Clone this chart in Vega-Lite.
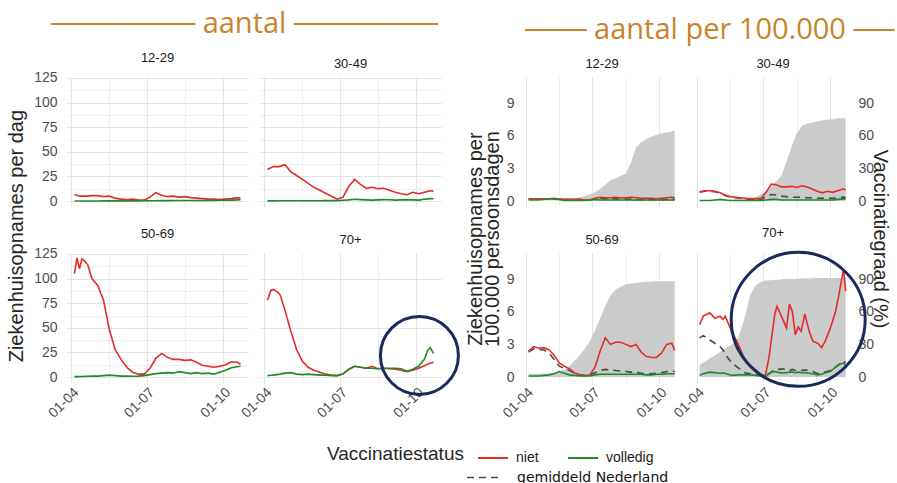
{
"$schema": "https://vega.github.io/schema/vega-lite/v6.json",
"padding": {"left": 6, "top": 9, "right": 0, "bottom": 0},
"config": {
 "font": "Liberation Sans",
 "view": {"stroke": null},
 "axis": {"domain": false, "ticks": false, "labelColor": "#4d4d4d", "labelFontSize": 14, "gridColor": "#e4e4e4", "minExtent": 0},
 "title": {"fontSize": 13, "fontWeight": "normal", "color": "#1a1a1a", "offset": 6, "frame": "group", "anchor": "middle", "font": "Liberation Sans"},
 "legend": {"labelFontSize": 14, "labelColor": "#1a1a1a"}
},
"datasets": {
"L": [
{"g":"12-29","d":"2021-04-05","niet":6.5,"volledig":0.1},{"g":"12-29","d":"2021-04-12","niet":5,"volledig":0.1},{"g":"12-29","d":"2021-04-19","niet":5,"volledig":0.1},{"g":"12-29","d":"2021-04-26","niet":5.5,"volledig":0.1},{"g":"12-29","d":"2021-05-03","niet":5.5,"volledig":0.1},{"g":"12-29","d":"2021-05-10","niet":4.5,"volledig":0.2},{"g":"12-29","d":"2021-05-17","niet":5,"volledig":0.2},{"g":"12-29","d":"2021-05-24","niet":3,"volledig":0.2},{"g":"12-29","d":"2021-05-31","niet":2,"volledig":0.2},{"g":"12-29","d":"2021-06-07","niet":1.5,"volledig":0.2},{"g":"12-29","d":"2021-06-14","niet":2,"volledig":0.2},{"g":"12-29","d":"2021-06-21","niet":1,"volledig":0.2},{"g":"12-29","d":"2021-06-28","niet":1,"volledig":0.3},{"g":"12-29","d":"2021-07-05","niet":4,"volledig":0.3},{"g":"12-29","d":"2021-07-12","niet":8.5,"volledig":0.4},{"g":"12-29","d":"2021-07-19","niet":6,"volledig":0.5},{"g":"12-29","d":"2021-07-26","niet":4.5,"volledig":0.5},{"g":"12-29","d":"2021-08-02","niet":5,"volledig":0.6},{"g":"12-29","d":"2021-08-09","niet":4,"volledig":0.6},{"g":"12-29","d":"2021-08-16","niet":4.5,"volledig":0.6},{"g":"12-29","d":"2021-08-23","niet":3.5,"volledig":0.6},{"g":"12-29","d":"2021-08-30","niet":3,"volledig":0.6},{"g":"12-29","d":"2021-09-06","niet":2.5,"volledig":0.6},{"g":"12-29","d":"2021-09-13","niet":2,"volledig":0.7},{"g":"12-29","d":"2021-09-20","niet":2,"volledig":0.7},{"g":"12-29","d":"2021-09-27","niet":1.5,"volledig":0.8},{"g":"12-29","d":"2021-10-04","niet":2,"volledig":0.8},{"g":"12-29","d":"2021-10-11","niet":2.5,"volledig":1},{"g":"12-29","d":"2021-10-18","niet":3.5,"volledig":1.2},{"g":"12-29","d":"2021-10-22","niet":3,"volledig":1.3},
{"g":"30-49","d":"2021-04-05","niet":32,"volledig":0.2},{"g":"30-49","d":"2021-04-12","niet":35,"volledig":0.2},{"g":"30-49","d":"2021-04-19","niet":35,"volledig":0.3},{"g":"30-49","d":"2021-04-26","niet":37,"volledig":0.3},{"g":"30-49","d":"2021-05-03","niet":30,"volledig":0.3},{"g":"30-49","d":"2021-05-10","niet":26,"volledig":0.3},{"g":"30-49","d":"2021-05-17","niet":22,"volledig":0.3},{"g":"30-49","d":"2021-05-24","niet":18,"volledig":0.4},{"g":"30-49","d":"2021-05-31","niet":14,"volledig":0.4},{"g":"30-49","d":"2021-06-07","niet":11,"volledig":0.4},{"g":"30-49","d":"2021-06-14","niet":8,"volledig":0.5},{"g":"30-49","d":"2021-06-21","niet":5,"volledig":0.5},{"g":"30-49","d":"2021-06-28","niet":2,"volledig":0.5},{"g":"30-49","d":"2021-07-05","niet":4,"volledig":0.8},{"g":"30-49","d":"2021-07-12","niet":15,"volledig":1.2},{"g":"30-49","d":"2021-07-19","niet":22,"volledig":1.8},{"g":"30-49","d":"2021-07-26","niet":17,"volledig":1.5},{"g":"30-49","d":"2021-08-02","niet":13,"volledig":1.2},{"g":"30-49","d":"2021-08-09","niet":14,"volledig":1},{"g":"30-49","d":"2021-08-16","niet":12.5,"volledig":1.2},{"g":"30-49","d":"2021-08-23","niet":13,"volledig":1.5},{"g":"30-49","d":"2021-08-30","niet":11,"volledig":1.3},{"g":"30-49","d":"2021-09-06","niet":9,"volledig":1},{"g":"30-49","d":"2021-09-13","niet":7.5,"volledig":1.2},{"g":"30-49","d":"2021-09-20","niet":6.5,"volledig":1.5},{"g":"30-49","d":"2021-09-27","niet":9,"volledig":1.2},{"g":"30-49","d":"2021-10-04","niet":7.5,"volledig":1},{"g":"30-49","d":"2021-10-11","niet":9,"volledig":1.8},{"g":"30-49","d":"2021-10-18","niet":10.5,"volledig":2.5},{"g":"30-49","d":"2021-10-22","niet":10,"volledig":2.3},
{"g":"50-69","d":"2021-04-05","niet":105,"volledig":0.5},{"g":"50-69","d":"2021-04-08","niet":121,"volledig":0.5},{"g":"50-69","d":"2021-04-11","niet":110,"volledig":0.5},{"g":"50-69","d":"2021-04-14","niet":120,"volledig":0.6},{"g":"50-69","d":"2021-04-17","niet":118,"volledig":0.7},{"g":"50-69","d":"2021-04-21","niet":114,"volledig":0.8},{"g":"50-69","d":"2021-04-26","niet":100,"volledig":1},{"g":"50-69","d":"2021-05-03","niet":93,"volledig":1},{"g":"50-69","d":"2021-05-10","niet":78,"volledig":1.5},{"g":"50-69","d":"2021-05-17","niet":48,"volledig":2},{"g":"50-69","d":"2021-05-24","niet":28,"volledig":1.5},{"g":"50-69","d":"2021-05-31","niet":18,"volledig":1},{"g":"50-69","d":"2021-06-07","niet":10,"volledig":1},{"g":"50-69","d":"2021-06-14","niet":5,"volledig":0.8},{"g":"50-69","d":"2021-06-21","niet":3,"volledig":1},{"g":"50-69","d":"2021-06-28","niet":3,"volledig":1.5},{"g":"50-69","d":"2021-07-05","niet":9,"volledig":2.5},{"g":"50-69","d":"2021-07-12","niet":19,"volledig":3.5},{"g":"50-69","d":"2021-07-19","niet":24,"volledig":4},{"g":"50-69","d":"2021-07-26","niet":20,"volledig":4.5},{"g":"50-69","d":"2021-08-02","niet":18,"volledig":4},{"g":"50-69","d":"2021-08-09","niet":18,"volledig":5.5},{"g":"50-69","d":"2021-08-16","niet":17,"volledig":4.5},{"g":"50-69","d":"2021-08-23","niet":17.5,"volledig":3.5},{"g":"50-69","d":"2021-08-30","niet":15,"volledig":4.5},{"g":"50-69","d":"2021-09-06","niet":12,"volledig":3.5},{"g":"50-69","d":"2021-09-13","niet":11,"volledig":4},{"g":"50-69","d":"2021-09-20","niet":10,"volledig":3},{"g":"50-69","d":"2021-09-27","niet":11,"volledig":5},{"g":"50-69","d":"2021-10-04","niet":12.5,"volledig":7},{"g":"50-69","d":"2021-10-11","niet":15.5,"volledig":9.5},{"g":"50-69","d":"2021-10-18","niet":15,"volledig":10.5},{"g":"50-69","d":"2021-10-22","niet":13,"volledig":11},
{"g":"70+","d":"2021-04-05","niet":78,"volledig":1.5},{"g":"70+","d":"2021-04-09","niet":88,"volledig":1.8},{"g":"70+","d":"2021-04-12","niet":89,"volledig":2},{"g":"70+","d":"2021-04-16","niet":87,"volledig":2.5},{"g":"70+","d":"2021-04-20","niet":84,"volledig":3},{"g":"70+","d":"2021-04-26","niet":68,"volledig":4},{"g":"70+","d":"2021-05-03","niet":47,"volledig":4.5},{"g":"70+","d":"2021-05-10","niet":28,"volledig":3},{"g":"70+","d":"2021-05-17","niet":16,"volledig":2.5},{"g":"70+","d":"2021-05-24","niet":10,"volledig":3},{"g":"70+","d":"2021-05-31","niet":7,"volledig":2.5},{"g":"70+","d":"2021-06-07","niet":5,"volledig":2},{"g":"70+","d":"2021-06-14","niet":3,"volledig":2},{"g":"70+","d":"2021-06-21","niet":2,"volledig":1.5},{"g":"70+","d":"2021-06-28","niet":1.5,"volledig":1.5},{"g":"70+","d":"2021-07-05","niet":3,"volledig":3.5},{"g":"70+","d":"2021-07-12","niet":8,"volledig":8},{"g":"70+","d":"2021-07-19","niet":11,"volledig":11},{"g":"70+","d":"2021-07-26","niet":10,"volledig":10},{"g":"70+","d":"2021-08-02","niet":9,"volledig":9},{"g":"70+","d":"2021-08-09","niet":11,"volledig":9},{"g":"70+","d":"2021-08-16","niet":8.5,"volledig":8.5},{"g":"70+","d":"2021-08-23","niet":9,"volledig":9},{"g":"70+","d":"2021-08-30","niet":8.5,"volledig":9},{"g":"70+","d":"2021-09-06","niet":8,"volledig":9},{"g":"70+","d":"2021-09-13","niet":7,"volledig":8.5},{"g":"70+","d":"2021-09-20","niet":5.5,"volledig":6},{"g":"70+","d":"2021-09-27","niet":7,"volledig":8},{"g":"70+","d":"2021-10-04","niet":9,"volledig":11},{"g":"70+","d":"2021-10-11","niet":11.5,"volledig":18},{"g":"70+","d":"2021-10-15","niet":13,"volledig":27},{"g":"70+","d":"2021-10-18","niet":14,"volledig":30},{"g":"70+","d":"2021-10-22","niet":15,"volledig":24}
],
"R": [
{"g":"12-29","d":"2021-04-05","niet":0.2,"volledig":0.1,"gem":0.18,"vacc":0},{"g":"12-29","d":"2021-04-12","niet":0.2,"volledig":0.1,"gem":0.18,"vacc":0},{"g":"12-29","d":"2021-04-19","niet":0.2,"volledig":0.1,"gem":0.18,"vacc":0},{"g":"12-29","d":"2021-04-26","niet":0.2,"volledig":0.15,"gem":0.18,"vacc":0},{"g":"12-29","d":"2021-05-03","niet":0.2,"volledig":0.2,"gem":0.18,"vacc":0.5},{"g":"12-29","d":"2021-05-10","niet":0.2,"volledig":0.25,"gem":0.18,"vacc":0.5},{"g":"12-29","d":"2021-05-17","niet":0.2,"volledig":0.15,"gem":0.18,"vacc":1},{"g":"12-29","d":"2021-05-24","niet":0.15,"volledig":0.05,"gem":0.13,"vacc":1.5},{"g":"12-29","d":"2021-05-31","niet":0.15,"volledig":0.05,"gem":0.13,"vacc":2},{"g":"12-29","d":"2021-06-07","niet":0.15,"volledig":0.05,"gem":0.13,"vacc":2.5},{"g":"12-29","d":"2021-06-14","niet":0.15,"volledig":0.05,"gem":0.13,"vacc":3.5},{"g":"12-29","d":"2021-06-21","niet":0.1,"volledig":0.05,"gem":0.1,"vacc":4.5},{"g":"12-29","d":"2021-06-28","niet":0.1,"volledig":0.1,"gem":0.1,"vacc":6},{"g":"12-29","d":"2021-07-05","niet":0.25,"volledig":0.15,"gem":0.2,"vacc":8},{"g":"12-29","d":"2021-07-12","niet":0.35,"volledig":0.1,"gem":0.25,"vacc":11},{"g":"12-29","d":"2021-07-19","niet":0.3,"volledig":0.1,"gem":0.2,"vacc":15},{"g":"12-29","d":"2021-07-26","niet":0.3,"volledig":0.1,"gem":0.2,"vacc":19},{"g":"12-29","d":"2021-08-02","niet":0.35,"volledig":0.1,"gem":0.2,"vacc":21},{"g":"12-29","d":"2021-08-09","niet":0.3,"volledig":0.1,"gem":0.18,"vacc":23},{"g":"12-29","d":"2021-08-16","niet":0.3,"volledig":0.1,"gem":0.17,"vacc":25},{"g":"12-29","d":"2021-08-23","niet":0.35,"volledig":0.1,"gem":0.17,"vacc":35},{"g":"12-29","d":"2021-08-30","niet":0.3,"volledig":0.1,"gem":0.15,"vacc":49},{"g":"12-29","d":"2021-09-06","niet":0.25,"volledig":0.1,"gem":0.13,"vacc":54},{"g":"12-29","d":"2021-09-13","niet":0.25,"volledig":0.1,"gem":0.13,"vacc":57},{"g":"12-29","d":"2021-09-20","niet":0.25,"volledig":0.1,"gem":0.13,"vacc":59},{"g":"12-29","d":"2021-09-27","niet":0.2,"volledig":0.1,"gem":0.12,"vacc":61},{"g":"12-29","d":"2021-10-04","niet":0.25,"volledig":0.1,"gem":0.13,"vacc":62},{"g":"12-29","d":"2021-10-11","niet":0.3,"volledig":0.1,"gem":0.15,"vacc":63},{"g":"12-29","d":"2021-10-18","niet":0.35,"volledig":0.1,"gem":0.17,"vacc":64},{"g":"12-29","d":"2021-10-22","niet":0.3,"volledig":0.1,"gem":0.15,"vacc":65},
{"g":"30-49","d":"2021-04-05","niet":0.85,"volledig":0.05,"gem":0.8,"vacc":0},{"g":"30-49","d":"2021-04-12","niet":0.95,"volledig":0.05,"gem":0.9,"vacc":0},{"g":"30-49","d":"2021-04-19","niet":0.95,"volledig":0.05,"gem":0.9,"vacc":0},{"g":"30-49","d":"2021-04-26","niet":0.9,"volledig":0.1,"gem":0.85,"vacc":0.5},{"g":"30-49","d":"2021-05-03","niet":0.75,"volledig":0.15,"gem":0.7,"vacc":0.5},{"g":"30-49","d":"2021-05-10","niet":0.55,"volledig":0.1,"gem":0.5,"vacc":1},{"g":"30-49","d":"2021-05-17","niet":0.4,"volledig":0.05,"gem":0.35,"vacc":1},{"g":"30-49","d":"2021-05-24","niet":0.35,"volledig":0.05,"gem":0.3,"vacc":1.5},{"g":"30-49","d":"2021-05-31","niet":0.3,"volledig":0.05,"gem":0.25,"vacc":1.5},{"g":"30-49","d":"2021-06-07","niet":0.25,"volledig":0.05,"gem":0.2,"vacc":2},{"g":"30-49","d":"2021-06-14","niet":0.2,"volledig":0.05,"gem":0.15,"vacc":3},{"g":"30-49","d":"2021-06-21","niet":0.2,"volledig":0.05,"gem":0.15,"vacc":4},{"g":"30-49","d":"2021-06-28","niet":0.25,"volledig":0.05,"gem":0.15,"vacc":6},{"g":"30-49","d":"2021-07-05","niet":0.8,"volledig":0.1,"gem":0.4,"vacc":9},{"g":"30-49","d":"2021-07-12","niet":1.55,"volledig":0.15,"gem":0.6,"vacc":13},{"g":"30-49","d":"2021-07-19","niet":1.5,"volledig":0.15,"gem":0.55,"vacc":18},{"g":"30-49","d":"2021-07-26","niet":1.3,"volledig":0.1,"gem":0.45,"vacc":23},{"g":"30-49","d":"2021-08-02","niet":1.3,"volledig":0.1,"gem":0.4,"vacc":36},{"g":"30-49","d":"2021-08-09","niet":1.35,"volledig":0.1,"gem":0.35,"vacc":50},{"g":"30-49","d":"2021-08-16","niet":1.25,"volledig":0.1,"gem":0.35,"vacc":62},{"g":"30-49","d":"2021-08-23","niet":1.4,"volledig":0.1,"gem":0.35,"vacc":69},{"g":"30-49","d":"2021-08-30","niet":1.3,"volledig":0.1,"gem":0.3,"vacc":71},{"g":"30-49","d":"2021-09-06","niet":1.1,"volledig":0.1,"gem":0.3,"vacc":72},{"g":"30-49","d":"2021-09-13","niet":0.9,"volledig":0.1,"gem":0.25,"vacc":73},{"g":"30-49","d":"2021-09-20","niet":0.75,"volledig":0.1,"gem":0.25,"vacc":74},{"g":"30-49","d":"2021-09-27","niet":0.9,"volledig":0.1,"gem":0.25,"vacc":75},{"g":"30-49","d":"2021-10-04","niet":0.8,"volledig":0.1,"gem":0.25,"vacc":75},{"g":"30-49","d":"2021-10-11","niet":0.95,"volledig":0.15,"gem":0.3,"vacc":76},{"g":"30-49","d":"2021-10-18","niet":1.1,"volledig":0.2,"gem":0.35,"vacc":76},{"g":"30-49","d":"2021-10-22","niet":1.05,"volledig":0.2,"gem":0.35,"vacc":76},
{"g":"50-69","d":"2021-04-05","niet":2.35,"volledig":0.1,"gem":2.3,"vacc":3},{"g":"50-69","d":"2021-04-12","niet":2.8,"volledig":0.1,"gem":2.6,"vacc":3},{"g":"50-69","d":"2021-04-19","niet":2.65,"volledig":0.1,"gem":2.5,"vacc":3},{"g":"50-69","d":"2021-04-26","niet":2.7,"volledig":0.15,"gem":2.5,"vacc":3},{"g":"50-69","d":"2021-05-03","niet":2.5,"volledig":0.2,"gem":2.2,"vacc":3},{"g":"50-69","d":"2021-05-10","niet":2,"volledig":0.3,"gem":1.6,"vacc":4},{"g":"50-69","d":"2021-05-17","niet":1.3,"volledig":0.5,"gem":1,"vacc":5},{"g":"50-69","d":"2021-05-24","niet":1,"volledig":0.35,"gem":0.8,"vacc":7},{"g":"50-69","d":"2021-05-31","niet":0.75,"volledig":0.2,"gem":0.6,"vacc":10},{"g":"50-69","d":"2021-06-07","niet":0.37,"volledig":0.15,"gem":0.35,"vacc":15},{"g":"50-69","d":"2021-06-14","niet":0.2,"volledig":0.1,"gem":0.2,"vacc":20},{"g":"50-69","d":"2021-06-21","niet":0.12,"volledig":0.1,"gem":0.15,"vacc":26},{"g":"50-69","d":"2021-06-28","niet":0.2,"volledig":0.1,"gem":0.2,"vacc":33},{"g":"50-69","d":"2021-07-05","niet":0.9,"volledig":0.2,"gem":0.4,"vacc":43},{"g":"50-69","d":"2021-07-12","niet":2.4,"volledig":0.25,"gem":0.6,"vacc":54},{"g":"50-69","d":"2021-07-19","niet":3.6,"volledig":0.25,"gem":0.7,"vacc":65},{"g":"50-69","d":"2021-07-26","niet":3,"volledig":0.25,"gem":0.65,"vacc":75},{"g":"50-69","d":"2021-08-02","niet":3.2,"volledig":0.25,"gem":0.6,"vacc":80},{"g":"50-69","d":"2021-08-09","niet":3.2,"volledig":0.25,"gem":0.55,"vacc":83},{"g":"50-69","d":"2021-08-16","niet":3,"volledig":0.25,"gem":0.5,"vacc":85},{"g":"50-69","d":"2021-08-23","niet":2.8,"volledig":0.25,"gem":0.45,"vacc":86},{"g":"50-69","d":"2021-08-30","niet":3,"volledig":0.25,"gem":0.45,"vacc":86.5},{"g":"50-69","d":"2021-09-06","niet":2.3,"volledig":0.25,"gem":0.35,"vacc":87},{"g":"50-69","d":"2021-09-13","niet":1.9,"volledig":0.2,"gem":0.3,"vacc":87.5},{"g":"50-69","d":"2021-09-20","niet":1.8,"volledig":0.2,"gem":0.3,"vacc":87.5},{"g":"50-69","d":"2021-09-27","niet":1.8,"volledig":0.25,"gem":0.35,"vacc":88},{"g":"50-69","d":"2021-10-04","niet":2.2,"volledig":0.25,"gem":0.4,"vacc":88},{"g":"50-69","d":"2021-10-11","niet":3,"volledig":0.3,"gem":0.5,"vacc":88},{"g":"50-69","d":"2021-10-18","niet":3.1,"volledig":0.3,"gem":0.55,"vacc":88},{"g":"50-69","d":"2021-10-22","niet":2.45,"volledig":0.3,"gem":0.5,"vacc":88},
{"g":"70+","d":"2021-04-05","niet":4.8,"volledig":0.15,"gem":3.6,"vacc":11},{"g":"70+","d":"2021-04-10","niet":5.6,"volledig":0.3,"gem":3.8,"vacc":13},{"g":"70+","d":"2021-04-19","niet":5.9,"volledig":0.45,"gem":3.4,"vacc":17},{"g":"70+","d":"2021-04-26","niet":5.4,"volledig":0.4,"gem":3.1,"vacc":20},{"g":"70+","d":"2021-05-03","niet":5.6,"volledig":0.35,"gem":2.8,"vacc":23},{"g":"70+","d":"2021-05-07","niet":5.3,"volledig":0.37,"gem":2.5,"vacc":25},{"g":"70+","d":"2021-05-10","niet":5.6,"volledig":0.35,"gem":2.1,"vacc":26},{"g":"70+","d":"2021-05-19","niet":4.2,"volledig":0.15,"gem":1.3,"vacc":30},{"g":"70+","d":"2021-05-28","niet":3,"volledig":0.2,"gem":0.85,"vacc":36},{"g":"70+","d":"2021-06-06","niet":1.6,"volledig":0.2,"gem":0.4,"vacc":55},{"g":"70+","d":"2021-06-13","niet":1.1,"volledig":0.2,"gem":0.3,"vacc":75},{"g":"70+","d":"2021-06-20","niet":0.7,"volledig":0.15,"gem":0.2,"vacc":84},{"g":"70+","d":"2021-06-27","niet":0.3,"volledig":0.1,"gem":0.15,"vacc":87},{"g":"70+","d":"2021-07-04","niet":0.1,"volledig":0.06,"gem":0.15,"vacc":88.5},{"g":"70+","d":"2021-07-09","niet":1.8,"volledig":0.3,"gem":0.3,"vacc":89},{"g":"70+","d":"2021-07-13","niet":3.8,"volledig":0.45,"gem":0.5,"vacc":89},{"g":"70+","d":"2021-07-17","niet":5.8,"volledig":0.5,"gem":0.7,"vacc":89.5},{"g":"70+","d":"2021-07-20","niet":6.5,"volledig":0.45,"gem":0.75,"vacc":89.5},{"g":"70+","d":"2021-07-24","niet":5.9,"volledig":0.4,"gem":0.7,"vacc":89.5},{"g":"70+","d":"2021-07-28","niet":5.3,"volledig":0.37,"gem":0.75,"vacc":90},{"g":"70+","d":"2021-08-02","niet":4.5,"volledig":0.4,"gem":0.65,"vacc":90},{"g":"70+","d":"2021-08-06","niet":6.7,"volledig":0.45,"gem":0.6,"vacc":90},{"g":"70+","d":"2021-08-10","niet":6,"volledig":0.45,"gem":0.7,"vacc":90},{"g":"70+","d":"2021-08-14","niet":3.9,"volledig":0.4,"gem":0.6,"vacc":90},{"g":"70+","d":"2021-08-18","niet":4.6,"volledig":0.45,"gem":0.7,"vacc":90.5},{"g":"70+","d":"2021-08-22","niet":4.2,"volledig":0.4,"gem":0.6,"vacc":90.5},{"g":"70+","d":"2021-08-27","niet":5.8,"volledig":0.4,"gem":0.65,"vacc":90.5},{"g":"70+","d":"2021-09-02","niet":4.2,"volledig":0.35,"gem":0.6,"vacc":90.5},{"g":"70+","d":"2021-09-07","niet":3.3,"volledig":0.3,"gem":0.5,"vacc":91},{"g":"70+","d":"2021-09-14","niet":3.1,"volledig":0.2,"gem":0.3,"vacc":91},{"g":"70+","d":"2021-09-19","niet":2.7,"volledig":0.25,"gem":0.35,"vacc":91},{"g":"70+","d":"2021-09-24","niet":3.3,"volledig":0.4,"gem":0.45,"vacc":91},{"g":"70+","d":"2021-10-01","niet":4.5,"volledig":0.5,"gem":0.6,"vacc":91},{"g":"70+","d":"2021-10-08","niet":6,"volledig":0.9,"gem":0.9,"vacc":91},{"g":"70+","d":"2021-10-12","niet":7.3,"volledig":1.1,"gem":1.1,"vacc":91},{"g":"70+","d":"2021-10-19","niet":9.9,"volledig":1.3,"gem":1.5,"vacc":91},{"g":"70+","d":"2021-10-22","niet":7.9,"volledig":1,"gem":1.3,"vacc":91}
]
},
"spacing": 1,
"hconcat": [
{
 "title": {"text": "─────── aantal ───────", "font": "Open Sans", "fontSize": 29, "color": "#c8842b", "anchor": "middle", "frame": "bounds", "offset": 13, "dx": 9},
 "vconcat": [{
  "title": {"text": "Ziekenhuisopnames per dag", "orient": "left", "fontSize": 20, "color": "#262626", "frame": "bounds", "anchor": "middle", "offset": 7},
  "columns": 2, "bounds": "flush", "spacing": {"row": 46, "column": 12},
  "concat": [
    {"title": "12-29", "width": 181, "height": 130, "data": {"name": "L"},
     "transform": [{"filter": "datum.g == '12-29'"}, {"fold": ["niet", "volledig"], "as": ["s", "val"]}],
     "encoding": {"x": {"field": "d", "type": "temporal", "scale": {"domain": [{"year": 2021, "month": 3, "date": 27}, {"year": 2021, "month": 10, "date": 31}], "nice": false}, "axis": {"values": [{"year": 2021, "month": 4, "date": 1}, {"year": 2021, "month": 5, "date": 16}, {"year": 2021, "month": 7, "date": 1}, {"year": 2021, "month": 8, "date": 16}, {"year": 2021, "month": 10, "date": 1}], "labels": false, "title": null, "gridWidth": {"condition": {"test": "month(datum.value) % 3 != 0", "value": 0.6}, "value": 1.1}}}},
     "layer": [{"mark": {"type": "line", "strokeWidth": 1.6},
       "encoding": {"y": {"field": "val", "type": "quantitative", "scale": {"domain": [-6, 126], "nice": false, "zero": false}, "axis": {"values": [0, 12.5, 25, 37.5, 50, 62.5, 75, 87.5, 100, 112.5, 125], "labelExpr": "datum.value % 25 == 0 ? datum.label : ''", "title": null, "labelPadding": 10, "gridWidth": {"condition": {"test": "datum.value % 25 != 0", "value": 0.6}, "value": 1.1}}},
        "color": {"field": "s", "type": "nominal", "scale": {"domain": ["niet", "volledig"], "range": ["#e32b2b", "#218a28"]},
          "legend": {"orient": "none", "legendX": 260, "legendY": 365, "direction": "horizontal", "title": "Vaccinatiestatus", "titleOrient": "left", "titleAnchor": "middle", "titleFontSize": 19, "titleFontWeight": "normal", "titleColor": "#262626", "titleFont": "Liberation Sans", "titlePadding": 13, "titleBaseline": "middle", "labelFontSize": 14, "labelColor": "#1a1a1a", "labelOffset": 7, "symbolType": "stroke", "symbolSize": 900, "symbolStrokeWidth": 2, "columnPadding": 25}}}}]},
    {"title": "30-49", "width": 181, "height": 130, "data": {"name": "L"},
     "transform": [{"filter": "datum.g == '30-49'"}, {"fold": ["niet", "volledig"], "as": ["s", "val"]}],
     "encoding": {"x": {"field": "d", "type": "temporal", "scale": {"domain": [{"year": 2021, "month": 3, "date": 27}, {"year": 2021, "month": 10, "date": 31}], "nice": false}, "axis": {"values": [{"year": 2021, "month": 4, "date": 1}, {"year": 2021, "month": 5, "date": 16}, {"year": 2021, "month": 7, "date": 1}, {"year": 2021, "month": 8, "date": 16}, {"year": 2021, "month": 10, "date": 1}], "labels": false, "title": null, "gridWidth": {"condition": {"test": "month(datum.value) % 3 != 0", "value": 0.6}, "value": 1.1}}}},
     "layer": [{"mark": {"type": "line", "strokeWidth": 1.6},
       "encoding": {"y": {"field": "val", "type": "quantitative", "scale": {"domain": [-6, 126], "nice": false, "zero": false}, "axis": {"values": [0, 12.5, 25, 37.5, 50, 62.5, 75, 87.5, 100, 112.5, 125], "labels": false, "title": null, "gridWidth": {"condition": {"test": "datum.value % 25 != 0", "value": 0.6}, "value": 1.1}}},
        "color": {"field": "s", "type": "nominal", "scale": {"domain": ["niet", "volledig"], "range": ["#e32b2b", "#218a28"]}}}}]},
    {"title": "50-69", "width": 181, "height": 130, "data": {"name": "L"},
     "transform": [{"filter": "datum.g == '50-69'"}, {"fold": ["niet", "volledig"], "as": ["s", "val"]}],
     "encoding": {"x": {"field": "d", "type": "temporal", "scale": {"domain": [{"year": 2021, "month": 3, "date": 27}, {"year": 2021, "month": 10, "date": 31}], "nice": false}, "axis": {"values": [{"year": 2021, "month": 4, "date": 1}, {"year": 2021, "month": 5, "date": 16}, {"year": 2021, "month": 7, "date": 1}, {"year": 2021, "month": 8, "date": 16}, {"year": 2021, "month": 10, "date": 1}], "format": "%d-%m", "labelExpr": "month(datum.value) % 3 == 0 ? datum.label : ''", "labelAngle": -45, "labelAlign": "right", "labelBaseline": "top", "labelPadding": 2, "labelFlush": false, "labelOverlap": false, "title": null, "gridWidth": {"condition": {"test": "month(datum.value) % 3 != 0", "value": 0.6}, "value": 1.1}}}},
     "layer": [{"mark": {"type": "line", "strokeWidth": 1.6},
       "encoding": {"y": {"field": "val", "type": "quantitative", "scale": {"domain": [-6, 126], "nice": false, "zero": false}, "axis": {"values": [0, 12.5, 25, 37.5, 50, 62.5, 75, 87.5, 100, 112.5, 125], "labelExpr": "datum.value % 25 == 0 ? datum.label : ''", "title": null, "labelPadding": 10, "gridWidth": {"condition": {"test": "datum.value % 25 != 0", "value": 0.6}, "value": 1.1}}},
        "color": {"field": "s", "type": "nominal", "scale": {"domain": ["niet", "volledig"], "range": ["#e32b2b", "#218a28"]}}}}]},
    {"title": "70+", "width": 181, "height": 130, "data": {"name": "L"},
     "transform": [{"filter": "datum.g == '70+'"}, {"fold": ["niet", "volledig"], "as": ["s", "val"]}],
     "encoding": {"x": {"field": "d", "type": "temporal", "scale": {"domain": [{"year": 2021, "month": 3, "date": 27}, {"year": 2021, "month": 10, "date": 31}], "nice": false}, "axis": {"values": [{"year": 2021, "month": 4, "date": 1}, {"year": 2021, "month": 5, "date": 16}, {"year": 2021, "month": 7, "date": 1}, {"year": 2021, "month": 8, "date": 16}, {"year": 2021, "month": 10, "date": 1}], "format": "%d-%m", "labelExpr": "month(datum.value) % 3 == 0 ? datum.label : ''", "labelAngle": -45, "labelAlign": "right", "labelBaseline": "top", "labelPadding": 2, "labelFlush": false, "labelOverlap": false, "title": null, "gridWidth": {"condition": {"test": "month(datum.value) % 3 != 0", "value": 0.6}, "value": 1.1}}}},
     "layer": [
      {"mark": {"type": "line", "strokeWidth": 1.6},
       "encoding": {"y": {"field": "val", "type": "quantitative", "scale": {"domain": [-6, 126], "nice": false, "zero": false}, "axis": {"values": [0, 12.5, 25, 37.5, 50, 62.5, 75, 87.5, 100, 112.5, 125], "labels": false, "title": null, "gridWidth": {"condition": {"test": "datum.value % 25 != 0", "value": 0.6}, "value": 1.1}}},
        "color": {"field": "s", "type": "nominal", "scale": {"domain": ["niet", "volledig"], "range": ["#e32b2b", "#218a28"]}}}},
      {"data": {"values": [{"d": "2021-10-05", "y": 22}]},
       "mark": {"type": "point", "shape": "circle", "filled": false, "size": 6084, "color": "#1b2a5c", "strokeWidth": 3, "opacity": 1},
       "encoding": {"y": {"field": "y", "type": "quantitative", "axis": {"title": null}}}}
     ]}
  ]
 }]
},
{
 "title": {"text": "─── aantal per 100.000 ──", "font": "Open Sans", "fontSize": 29, "color": "#c8842b", "anchor": "end", "frame": "bounds", "offset": 13, "dx": 5},
 "vconcat": [{
  "title": {"text": "Vaccinatiegraad (%)", "orient": "right", "fontSize": 20, "color": "#262626", "frame": "bounds", "anchor": "middle", "offset": -4},
  "vconcat": [{
   "title": {"text": ["Ziekenhuisopnames per", "100.000 persoonsdagen"], "orient": "left", "fontSize": 20, "lineHeight": 17, "color": "#262626", "frame": "bounds", "anchor": "middle", "offset": -3},
   "columns": 2, "bounds": "flush", "spacing": {"row": 46, "column": 11},
   "concat": [
     {"title": "12-29", "width": 160, "height": 130, "data": {"name": "R"},
      "transform": [{"filter": "datum.g == '12-29'"}],
      "encoding": {"x": {"field": "d", "type": "temporal", "scale": {"domain": [{"year": 2021, "month": 3, "date": 27}, {"year": 2021, "month": 11, "date": 1}], "nice": false}, "axis": {"values": [{"year": 2021, "month": 4, "date": 1}, {"year": 2021, "month": 5, "date": 16}, {"year": 2021, "month": 7, "date": 1}, {"year": 2021, "month": 8, "date": 16}, {"year": 2021, "month": 10, "date": 1}], "labels": false, "title": null, "gridWidth": {"condition": {"test": "month(datum.value) % 3 != 0", "value": 0.6}, "value": 1.1}}}},
      "layer": [
       {"mark": {"type": "area", "color": "#cbcbcb", "opacity": 1}, "encoding": {"y": {"field": "vacc", "type": "quantitative", "scale": {"domain": [-5.5, 114], "nice": false, "zero": false}, "axis": null}}},
       {"layer": [
        {"mark": {"type": "line", "color": "#4a4a4a", "strokeWidth": 1.6},
         "encoding": {"y": {"field": "gem", "type": "quantitative", "scale": {"domain": [-0.55, 11.4], "nice": false, "zero": false}, "axis": {"orient": "left", "values": [0, 1.5, 3, 4.5, 6, 7.5, 9, 10.5], "labelExpr": "datum.value % 3 == 0 ? datum.label : ''", "title": null, "labelPadding": 8, "gridWidth": {"condition": {"test": "datum.value % 3 != 0", "value": 0.6}, "value": 1.1}}},
          "strokeDash": {"datum": "gemiddeld Nederland", "scale": {"range": [[7, 5]]}, "legend": {"orient": "none", "legendX": 399, "legendY": 383, "title": null, "symbolType": "stroke", "symbolSize": 1089, "symbolStrokeWidth": 1.5, "symbolStrokeColor": "#555555", "labelFont": "DejaVu Sans", "labelFontSize": 14, "labelColor": "#111111", "labelOffset": 16}}}},
        {"transform": [{"fold": ["niet", "volledig"], "as": ["s", "val"]}], "mark": {"type": "line", "strokeWidth": 1.6},
         "encoding": {"y": {"field": "val", "type": "quantitative", "scale": {"domain": [-0.55, 11.4], "nice": false, "zero": false}, "axis": {"orient": "left", "values": [0, 1.5, 3, 4.5, 6, 7.5, 9, 10.5], "labelExpr": "datum.value % 3 == 0 ? datum.label : ''", "title": null, "labelPadding": 8, "gridWidth": {"condition": {"test": "datum.value % 3 != 0", "value": 0.6}, "value": 1.1}}},
          "color": {"field": "s", "type": "nominal", "scale": {"domain": ["niet", "volledig"], "range": ["#e32b2b", "#218a28"]}}}}
       ]}
      ],
      "resolve": {"scale": {"y": "independent"}}},
     {"title": "30-49", "width": 160, "height": 130, "data": {"name": "R"},
      "transform": [{"filter": "datum.g == '30-49'"}],
      "encoding": {"x": {"field": "d", "type": "temporal", "scale": {"domain": [{"year": 2021, "month": 3, "date": 27}, {"year": 2021, "month": 11, "date": 1}], "nice": false}, "axis": {"values": [{"year": 2021, "month": 4, "date": 1}, {"year": 2021, "month": 5, "date": 16}, {"year": 2021, "month": 7, "date": 1}, {"year": 2021, "month": 8, "date": 16}, {"year": 2021, "month": 10, "date": 1}], "labels": false, "title": null, "gridWidth": {"condition": {"test": "month(datum.value) % 3 != 0", "value": 0.6}, "value": 1.1}}}},
      "layer": [
       {"mark": {"type": "area", "color": "#cbcbcb", "opacity": 1}, "encoding": {"y": {"field": "vacc", "type": "quantitative", "scale": {"domain": [-5.5, 114], "nice": false, "zero": false}, "axis": {"orient": "right", "values": [0, 30, 60, 90], "grid": false, "title": null, "labelPadding": 5}}}},
       {"layer": [
        {"mark": {"type": "line", "color": "#4a4a4a", "strokeWidth": 1.6},
         "encoding": {"y": {"field": "gem", "type": "quantitative", "scale": {"domain": [-0.55, 11.4], "nice": false, "zero": false}, "axis": {"orient": "left", "values": [0, 1.5, 3, 4.5, 6, 7.5, 9, 10.5], "labels": false, "title": null, "gridWidth": {"condition": {"test": "datum.value % 3 != 0", "value": 0.6}, "value": 1.1}}},
          "strokeDash": {"datum": "gemiddeld Nederland", "scale": {"range": [[7, 5]]}}}},
        {"transform": [{"fold": ["niet", "volledig"], "as": ["s", "val"]}], "mark": {"type": "line", "strokeWidth": 1.6},
         "encoding": {"y": {"field": "val", "type": "quantitative", "scale": {"domain": [-0.55, 11.4], "nice": false, "zero": false}, "axis": {"orient": "left", "values": [0, 1.5, 3, 4.5, 6, 7.5, 9, 10.5], "labels": false, "title": null, "gridWidth": {"condition": {"test": "datum.value % 3 != 0", "value": 0.6}, "value": 1.1}}},
          "color": {"field": "s", "type": "nominal", "scale": {"domain": ["niet", "volledig"], "range": ["#e32b2b", "#218a28"]}}}}
       ]}
      ],
      "resolve": {"scale": {"y": "independent"}}},
     {"title": "50-69", "width": 160, "height": 130, "data": {"name": "R"},
      "transform": [{"filter": "datum.g == '50-69'"}],
      "encoding": {"x": {"field": "d", "type": "temporal", "scale": {"domain": [{"year": 2021, "month": 3, "date": 27}, {"year": 2021, "month": 11, "date": 1}], "nice": false}, "axis": {"values": [{"year": 2021, "month": 4, "date": 1}, {"year": 2021, "month": 5, "date": 16}, {"year": 2021, "month": 7, "date": 1}, {"year": 2021, "month": 8, "date": 16}, {"year": 2021, "month": 10, "date": 1}], "format": "%d-%m", "labelExpr": "month(datum.value) % 3 == 0 ? datum.label : ''", "labelAngle": -45, "labelAlign": "right", "labelBaseline": "top", "labelPadding": 2, "labelFlush": false, "labelOverlap": false, "title": null, "gridWidth": {"condition": {"test": "month(datum.value) % 3 != 0", "value": 0.6}, "value": 1.1}}}},
      "layer": [
       {"mark": {"type": "area", "color": "#cbcbcb", "opacity": 1}, "encoding": {"y": {"field": "vacc", "type": "quantitative", "scale": {"domain": [-5.5, 114], "nice": false, "zero": false}, "axis": null}}},
       {"layer": [
        {"mark": {"type": "line", "color": "#4a4a4a", "strokeWidth": 1.6},
         "encoding": {"y": {"field": "gem", "type": "quantitative", "scale": {"domain": [-0.55, 11.4], "nice": false, "zero": false}, "axis": {"orient": "left", "values": [0, 1.5, 3, 4.5, 6, 7.5, 9, 10.5], "labelExpr": "datum.value % 3 == 0 ? datum.label : ''", "title": null, "labelPadding": 8, "gridWidth": {"condition": {"test": "datum.value % 3 != 0", "value": 0.6}, "value": 1.1}}},
          "strokeDash": {"datum": "gemiddeld Nederland", "scale": {"range": [[7, 5]]}}}},
        {"transform": [{"fold": ["niet", "volledig"], "as": ["s", "val"]}], "mark": {"type": "line", "strokeWidth": 1.6},
         "encoding": {"y": {"field": "val", "type": "quantitative", "scale": {"domain": [-0.55, 11.4], "nice": false, "zero": false}, "axis": {"orient": "left", "values": [0, 1.5, 3, 4.5, 6, 7.5, 9, 10.5], "labelExpr": "datum.value % 3 == 0 ? datum.label : ''", "title": null, "labelPadding": 8, "gridWidth": {"condition": {"test": "datum.value % 3 != 0", "value": 0.6}, "value": 1.1}}},
          "color": {"field": "s", "type": "nominal", "scale": {"domain": ["niet", "volledig"], "range": ["#e32b2b", "#218a28"]}}}}
       ]}
      ],
      "resolve": {"scale": {"y": "independent"}}},
     {"title": "70+", "width": 160, "height": 130, "data": {"name": "R"},
      "transform": [{"filter": "datum.g == '70+'"}],
      "encoding": {"x": {"field": "d", "type": "temporal", "scale": {"domain": [{"year": 2021, "month": 3, "date": 27}, {"year": 2021, "month": 11, "date": 1}], "nice": false}, "axis": {"values": [{"year": 2021, "month": 4, "date": 1}, {"year": 2021, "month": 5, "date": 16}, {"year": 2021, "month": 7, "date": 1}, {"year": 2021, "month": 8, "date": 16}, {"year": 2021, "month": 10, "date": 1}], "format": "%d-%m", "labelExpr": "month(datum.value) % 3 == 0 ? datum.label : ''", "labelAngle": -45, "labelAlign": "right", "labelBaseline": "top", "labelPadding": 2, "labelFlush": false, "labelOverlap": false, "title": null, "gridWidth": {"condition": {"test": "month(datum.value) % 3 != 0", "value": 0.6}, "value": 1.1}}}},
      "layer": [
       {"mark": {"type": "area", "color": "#cbcbcb", "opacity": 1}, "encoding": {"y": {"field": "vacc", "type": "quantitative", "scale": {"domain": [-5.5, 114], "nice": false, "zero": false}, "axis": {"orient": "right", "values": [0, 30, 60, 90], "grid": false, "title": null, "labelPadding": 5}}}},
       {"layer": [
        {"mark": {"type": "line", "color": "#4a4a4a", "strokeWidth": 1.6},
         "encoding": {"y": {"field": "gem", "type": "quantitative", "scale": {"domain": [-0.55, 11.4], "nice": false, "zero": false}, "axis": {"orient": "left", "values": [0, 1.5, 3, 4.5, 6, 7.5, 9, 10.5], "labels": false, "title": null, "gridWidth": {"condition": {"test": "datum.value % 3 != 0", "value": 0.6}, "value": 1.1}}},
          "strokeDash": {"datum": "gemiddeld Nederland", "scale": {"range": [[7, 5]]}}}},
        {"transform": [{"fold": ["niet", "volledig"], "as": ["s", "val"]}], "mark": {"type": "line", "strokeWidth": 1.6},
         "encoding": {"y": {"field": "val", "type": "quantitative", "scale": {"domain": [-0.55, 11.4], "nice": false, "zero": false}, "axis": {"orient": "left", "values": [0, 1.5, 3, 4.5, 6, 7.5, 9, 10.5], "labels": false, "title": null, "gridWidth": {"condition": {"test": "datum.value % 3 != 0", "value": 0.6}, "value": 1.1}}},
          "color": {"field": "s", "type": "nominal", "scale": {"domain": ["niet", "volledig"], "range": ["#e32b2b", "#218a28"]}}}},
        {"data": {"values": [{"d": "2021-08-18", "y": 5.3}]},
         "mark": {"type": "point", "shape": "circle", "filled": false, "size": 17956, "color": "#1b2a5c", "strokeWidth": 3, "opacity": 1},
         "encoding": {"y": {"field": "y", "type": "quantitative", "axis": {"title": null}}}}
       ]}
      ],
      "resolve": {"scale": {"y": "independent"}}}
   ]
  }]
 }]
}
]
}
